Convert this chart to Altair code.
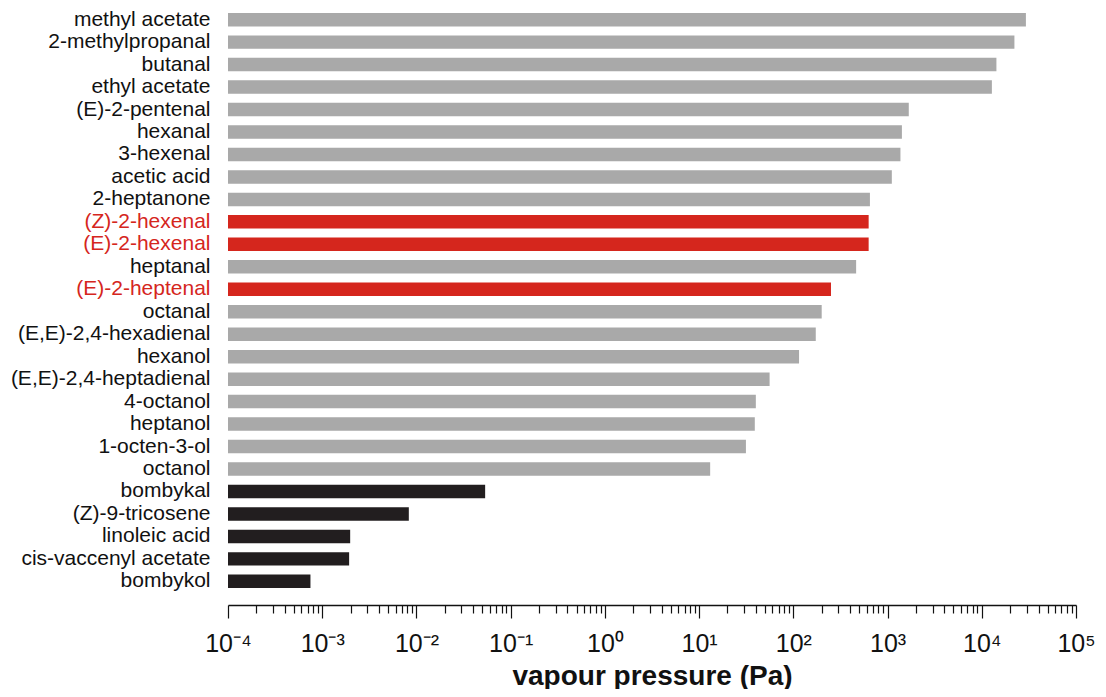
import altair as alt
import pandas as pd

NBSP = "\u00a0"

compounds = [
    "methyl acetate", "2-methylpropanal", "butanal", "ethyl acetate",
    "(E)-2-pentenal" + NBSP, "hexanal", "3-hexenal", "acetic acid", "2-heptanone",
    "(Z)-2-hexenal" + NBSP, "(E)-2-hexenal" + NBSP, "heptanal", "(E)-2-heptenal",
    "octanal", "(E,E)-2,4-hexadienal", "hexanol", "(E,E)-2,4-heptadienal",
    "4-octanol", "heptanol", "1-octen-3-ol", "octanol",
    "bombykal", "(Z)-9-tricosene" + NBSP, "linoleic acid", "cis-vaccenyl acetate", "bombykol",
]
vapour_pa = [
    29400, 22200, 14300, 12800,
    1680, 1420, 1370, 1110, 650,
    630, 630, 464, 251,
    200, 173, 115, 56,
    40, 39, 31.4, 13.1,
    0.0536, 0.0083, 0.00198, 0.00193, 0.00075,
]
groups = (["other"] * 9 + ["red", "red", "other", "red"] + ["other"] * 8 + ["black"] * 5)

group_names = ["other", "red", "black"]
group_colors = ["#a9a9a9", "#d5261d", "#221e1f"]

major_ticks = [1e-4, 1e-3, 1e-2, 1e-1, 1e0, 1e1, 1e2, 1e3, 1e4, 1e5]
major_labels = ["10⁻⁴", "10⁻³", "10⁻²", "10⁻¹", "10⁰", "10¹", "10²", "10³", "10⁴", "10⁵"]
minor_mult = [2, 3, 4, 5, 6, 7, 8, 9]

tick_values = []
for v in major_ticks[:-1]:
    tick_values.append(v)
    tick_values.extend([m * v for m in minor_mult])
tick_values.append(major_ticks[-1])

label_expr = ""
for v, lab in zip(major_ticks, major_labels):
    label_expr += f"datum.value == {v!r} ? '{lab}' : "
label_expr += "''"
major_list = "[" + ",".join(repr(v) for v in major_ticks) + "]"

red_names = [c for c, g in zip(compounds, groups) if g == "red"]
red_list = "[" + ",".join("'" + c + "'" for c in red_names) + "]"

df = pd.DataFrame({"compound": compounds, "pressure": vapour_pa, "group": groups})

FONT = "Liberation Sans"

chart = alt.Chart(df).mark_bar().encode(
    y=alt.Y(
        "compound:N",
        sort=None,
        scale=alt.Scale(paddingInner=0.4, paddingOuter=0.13),
        axis=alt.Axis(
            title=None, domain=False, ticks=False, labelPadding=18,
            labelFontSize=21, labelFont=FONT, labelLimit=400,
            labelColor={"condition": {"test": f"indexof({red_list}, datum.value) >= 0",
                                      "value": "#d5261d"}, "value": "#111111"},
        ),
    ),
    x=alt.X(
        "pressure:Q",
        scale=alt.Scale(type="log", domain=[1e-4, 1e5], nice=False),
        axis=alt.Axis(
            title="vapour pressure (Pa)", values=tick_values, labelExpr=label_expr,
            labelOverlap=False, labelFlush=False, grid=False, offset=14,
            tickSize={"condition": {"test": f"indexof({major_list}, datum.value) >= 0",
                                    "value": 13}, "value": 8},
            tickColor="#111111", tickWidth=1.2, domainColor="#111111", domainWidth=1.6,
            labelFont=FONT, labelFontSize=25, labelColor="#111111", labelPadding=13,
            titleFont=FONT, titleFontSize=28, titleFontWeight="bold", titleColor="#111111",
            titlePadding=6,
        ),
    ),
    x2=alt.datum(1e-4),
    color=alt.Color("group:N", scale=alt.Scale(domain=group_names, range=group_colors), legend=None),
).properties(
    width=848, height=581,
    autosize=alt.AutoSizeParams(type="none"),
    padding={"left": 220, "top": 2, "right": 22, "bottom": 98},
).configure_view(stroke=None)

chart.save("out.html", embed_options={"renderer": "svg", "actions": False})
